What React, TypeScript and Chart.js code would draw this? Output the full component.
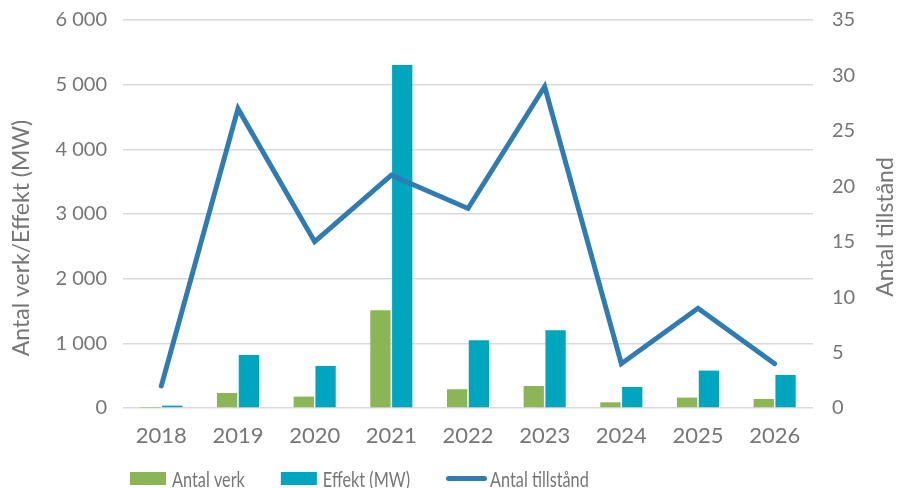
import React, { useEffect, useRef } from "react";
import { Chart, registerables } from "chart.js";

Chart.register(...registerables);

const categories = ["2018", "2019", "2020", "2021", "2022", "2023", "2024", "2025", "2026"];
const antalVerk = [6, 232, 176, 1512, 290, 340, 88, 161, 139];
const effektMW = [37, 820, 650, 5305, 1048, 1203, 325, 579, 511];
const antalTillstand = [2, 27, 15, 21, 18, 29, 4, 9, 4];

const leftTitle = "Antal verk/Effekt (MW)";
const rightTitle = "Antal tillstånd";

const GREEN = "#8cb555";
const TEAL = "#00a5be";
const BLUE = "#2f7cb5";
const TEXT = "#767676";
const FONT = "Lato, 'Open Sans', sans-serif";

const fmt = (v: number) => String(v).replace(/\B(?=(\d{3})+(?!\d))/g, " ");

const decorPlugin = {
  id: "decor",
  afterDraw(chart: any) {
    const ctx = chart.ctx as CanvasRenderingContext2D;
    const area = chart.chartArea;
    ctx.save();
    ctx.fillStyle = TEXT;
    ctx.font = `23px ${FONT}`;
    ctx.textAlign = "center";
    ctx.textBaseline = "middle";
    ctx.save();
    ctx.translate(22, (area.top + area.bottom) / 2 + 24);
    ctx.rotate(-Math.PI / 2);
    ctx.fillText(leftTitle, 0, 0);
    ctx.restore();
    ctx.save();
    ctx.translate(886, (area.top + area.bottom) / 2 + 13);
    ctx.rotate(-Math.PI / 2);
    ctx.fillText(rightTitle, 0, 0);
    ctx.restore();

    // legend
    const sx = 0.74;
    ctx.font = `22px ${FONT}`;
    ctx.textAlign = "left";
    ctx.textBaseline = "alphabetic";
    let x = 130;
    const baseY = 487;
    chart.data.datasets.forEach((ds: any) => {
      if (ds.type === "line") {
        ctx.strokeStyle = ds.borderColor;
        ctx.lineWidth = 5;
        ctx.lineCap = "round";
        ctx.beginPath();
        ctx.moveTo(x + 2.5, 478.5);
        ctx.lineTo(x + 38.5, 478.5);
        ctx.stroke();
        x += 44;
      } else {
        ctx.fillStyle = ds.backgroundColor;
        ctx.fillRect(x, 472, 36, 13);
        x += 42;
      }
      ctx.fillStyle = TEXT;
      const w = ctx.measureText(ds.label).width * sx;
      ctx.save();
      ctx.translate(x, baseY);
      ctx.scale(sx, 1);
      ctx.fillText(ds.label, 0, 0);
      ctx.restore();
      x += w + 36;
    });
    ctx.restore();
  },
};

export default function App() {
  const ref = useRef<HTMLCanvasElement>(null);
  useEffect(() => {
    if (!ref.current) return;
    const chart = new Chart(ref.current, {
      type: "bar",
      data: {
        labels: categories,
        datasets: [
          {
            type: "bar",
            label: "Antal verk",
            data: antalVerk,
            backgroundColor: GREEN,
            yAxisID: "y",
            order: 1,
            categoryPercentage: 0.569,
            barPercentage: 0.93,
          },
          {
            type: "bar",
            label: "Effekt (MW)",
            data: effektMW,
            backgroundColor: TEAL,
            yAxisID: "y",
            order: 1,
            categoryPercentage: 0.569,
            barPercentage: 0.93,
          },
          {
            type: "line",
            label: "Antal tillstånd",
            data: antalTillstand,
            borderColor: BLUE,
            backgroundColor: BLUE,
            borderWidth: 5,
            borderCapStyle: "round",
            pointRadius: 0,
            yAxisID: "y1",
            order: 0,
            tension: 0,
          },
        ],
      } as any,
      options: {
        animation: false,
        responsive: false,
        layout: { padding: { top: 20, left: 0, right: 0, bottom: 0 } },
        plugins: {
          legend: { display: false },
          tooltip: { enabled: false },
        },
        scales: {
          x: {
            offset: true,
            grid: { display: false, drawTicks: false },
            border: { display: false },
            ticks: { color: TEXT, font: { family: FONT, size: 22 }, padding: 15 },
            afterFit: (s: any) => {
              s.height = 80;
            },
          },
          y: {
            position: "left",
            min: 0,
            max: 6000,
            ticks: {
              stepSize: 1000,
              color: TEXT,
              font: { family: FONT, size: 20 },
              padding: 0,
              callback: (v: any) => fmt(Number(v)),
            },
            grid: {
              color: "#d9d9d9",
              lineWidth: 1.6,
              drawTicks: true,
              tickLength: 16,
              tickColor: "rgba(0,0,0,0)",
            },
            border: { display: false },
            afterFit: (s: any) => {
              s.width = 123;
            },
          },
          y1: {
            position: "right",
            min: 0,
            max: 35,
            ticks: { stepSize: 5, color: TEXT, font: { family: FONT, size: 20 }, padding: 0 },
            grid: {
              display: true,
              drawOnChartArea: false,
              drawTicks: true,
              tickLength: 19,
              color: "rgba(0,0,0,0)",
              tickColor: "rgba(0,0,0,0)",
            },
            border: { display: false },
            afterFit: (s: any) => {
              s.width = 86;
            },
          },
        },
      } as any,
      plugins: [decorPlugin],
    });
    return () => chart.destroy();
  }, []);
  return (
    <div style={{ position: "fixed", left: 0, top: 0, width: 899, height: 488, background: "#fff" }}>
      <canvas ref={ref} width={899} height={488} style={{ display: "block" }} />
    </div>
  );
}
